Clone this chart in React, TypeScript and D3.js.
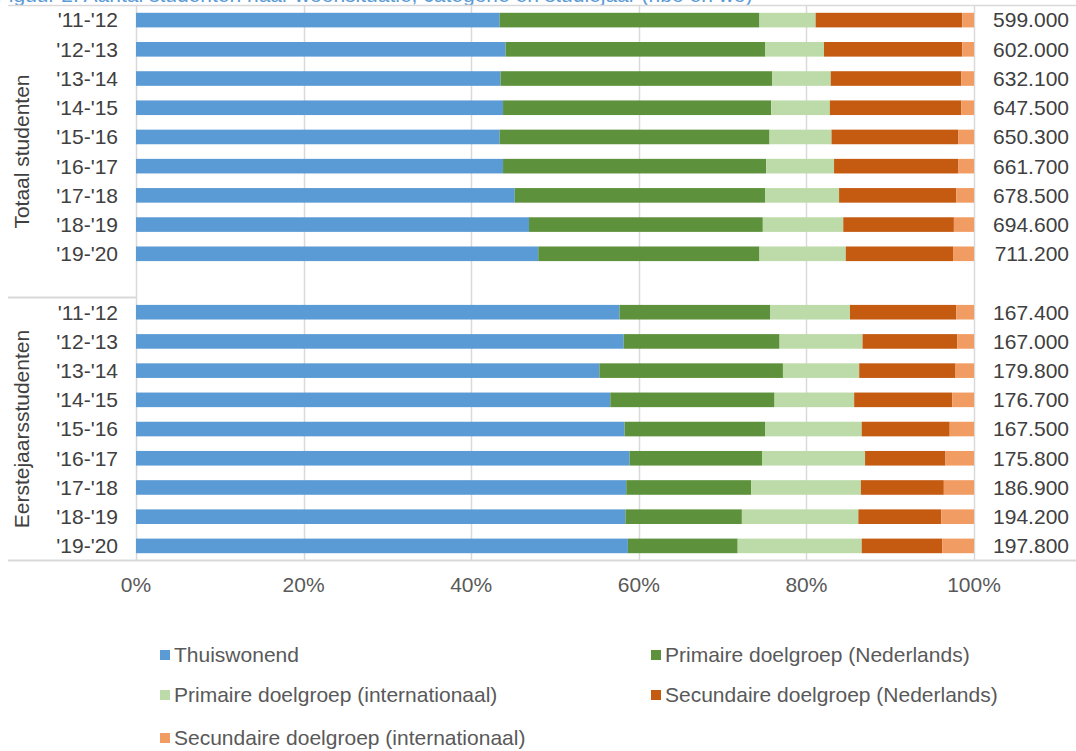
import React from "react";
import * as d3 from "d3";

const years = ["'11-'12", "'12-'13", "'13-'14", "'14-'15", "'15-'16", "'16-'17", "'17-'18", "'18-'19", "'19-'20"];
const groups = ["Totaal studenten", "Eerstejaarsstudenten"];

const totaalAantal = ["599.000", "602.000", "632.100", "647.500", "650.300", "661.700", "678.500", "694.600", "711.200"];
const eerstejaarsAantal = ["167.400", "167.000", "179.800", "176.700", "167.500", "175.800", "186.900", "194.200", "197.800"];

const seriesNames = [
  "Thuiswonend",
  "Primaire doelgroep (Nederlands)",
  "Primaire doelgroep (internationaal)",
  "Secundaire doelgroep (Nederlands)",
  "Secundaire doelgroep (internationaal)",
];
const seriesColors = ["#5B9BD5", "#5E913B", "#BCDBA8", "#C55A11", "#F19C63"];

// Totaal studenten (%)
const totThuis = [43.4, 44.1, 43.5, 43.8, 43.4, 43.8, 45.2, 46.9, 48.0];
const totPrimNL = [31.0, 31.0, 32.4, 32.0, 32.2, 31.4, 29.9, 27.9, 26.4];
const totPrimInt = [6.7, 7.0, 7.0, 7.0, 7.4, 8.1, 8.8, 9.6, 10.3];
const totSecNL = [17.5, 16.5, 15.6, 15.7, 15.1, 14.8, 14.0, 13.2, 12.8];
const totSecInt = [1.4, 1.4, 1.5, 1.5, 1.9, 1.9, 2.1, 2.4, 2.5];

// Eerstejaarsstudenten (%)
const ejThuis = [57.7, 58.2, 55.3, 56.6, 58.3, 58.9, 58.5, 58.4, 58.7];
const ejPrimNL = [18.0, 18.6, 21.9, 19.6, 16.8, 15.8, 14.9, 13.9, 13.1];
const ejPrimInt = [9.5, 9.9, 9.1, 9.5, 11.5, 12.3, 13.1, 13.9, 14.8];
const ejSecNL = [12.7, 11.3, 11.5, 11.7, 10.5, 9.6, 9.9, 9.9, 9.6];
const ejSecInt = [2.1, 2.0, 2.2, 2.6, 2.9, 3.4, 3.6, 3.9, 3.8];

const xTicks = [0, 0.2, 0.4, 0.6, 0.8, 1.0];

type Row = { key: string; label: string; group: number; total: string; values: number[] };

const rows: (Row | null)[] = [];
years.forEach((y, i) =>
  rows.push({ key: `t${i}`, label: y, group: 0, total: totaalAantal[i], values: [totThuis[i], totPrimNL[i], totPrimInt[i], totSecNL[i], totSecInt[i]] })
);
rows.push(null);
years.forEach((y, i) =>
  rows.push({ key: `e${i}`, label: y, group: 1, total: eerstejaarsAantal[i], values: [ejThuis[i], ejPrimNL[i], ejPrimInt[i], ejSecNL[i], ejSecInt[i]] })
);

const W = 1076;
const H = 751;
const plotLeft = 136;
const plotRight = 974;
const plotTop = 5.5;
const plotBottom = 560.5;
const font = "'Liberation Sans', Arial, sans-serif";
const fs = 21;

export default function App() {
  const x = d3.scaleLinear().domain([0, 1]).range([plotLeft, plotRight]);
  const y = d3
    .scaleBand<number>()
    .domain(d3.range(rows.length))
    .range([plotTop, plotBottom])
    .paddingInner(0.5)
    .paddingOuter(0.25);
  const step = y.step();
  const sepY = plotTop + step * 10;

  return (
    <svg width={W} height={H} style={{ position: "absolute", left: 0, top: 0, background: "#fff" }} fontFamily={font}>
      <text x={-4} y={2} fontSize={fs} fill="#5B9BD5">
        Figuur 2: Aantal studenten naar woonsituatie, categorie en studiejaar (hbo en wo)
      </text>
      {/* gridlines */}
      {xTicks.map((t) => (
        <line key={t} x1={Math.round(x(t)) + 0.5} x2={Math.round(x(t)) + 0.5} y1={plotTop} y2={plotBottom} stroke="#D9D9D9" strokeWidth={1.5} />
      ))}
      {/* frame lines */}
      <line x1={8} x2={W} y1={plotTop} y2={plotTop} stroke="#D9D9D9" strokeWidth={1.5} />
      <line x1={8} x2={W} y1={plotBottom} y2={plotBottom} stroke="#D9D9D9" strokeWidth={2} />
      <line x1={8} x2={plotLeft} y1={sepY} y2={sepY} stroke="#D9D9D9" strokeWidth={2} />
      {/* bars */}
      {rows.map((r, i) => {
        if (!r) return null;
        const tot = d3.sum(r.values);
        let acc = 0;
        return (
          <g key={r.key}>
            {r.values.map((v, k) => {
              const x0 = x(acc / tot);
              acc += v;
              const x1 = x(acc / tot);
              return <rect key={k} x={x0} y={y(i)} width={Math.max(0, x1 - x0)} height={y.bandwidth()} fill={seriesColors[k]} />;
            })}
            <text x={118} y={(y(i) as number) + y.bandwidth() / 2} dy="0.35em" textAnchor="end" fontSize={fs} fill="#404040">
              {r.label}
            </text>
            <text x={1069} y={(y(i) as number) + y.bandwidth() / 2} dy="0.35em" textAnchor="end" fontSize={fs} fill="#404040">
              {r.total}
            </text>
          </g>
        );
      })}
      {/* group labels */}
      {groups.map((g, gi) => {
        const cy = gi === 0 ? (plotTop + sepY) / 2 : (sepY + plotBottom) / 2;
        return (
          <text key={g} transform={`translate(22,${cy}) rotate(-90)`} textAnchor="middle" dy="0.35em" fontSize={fs} fill="#404040">
            {g}
          </text>
        );
      })}
      {/* x tick labels */}
      {xTicks.map((t) => (
        <text key={t} x={x(t)} y={585} dy="0.35em" textAnchor="middle" fontSize={fs} fill="#595959">
          {d3.format(".0%")(t)}
        </text>
      ))}
      {/* legend */}
      {seriesNames.map((s, k) => {
        const col = k % 2;
        const row = Math.floor(k / 2);
        const lx = col === 0 ? 160 : 651;
        const ly = [655, 695, 738][row];
        return (
          <g key={s}>
            <rect x={lx} y={ly - 5} width={10} height={10} fill={seriesColors[k]} />
            <text x={lx + 14} y={ly} dy="0.35em" fontSize={fs} fill="#595959">
              {s}
            </text>
          </g>
        );
      })}
    </svg>
  );
}
